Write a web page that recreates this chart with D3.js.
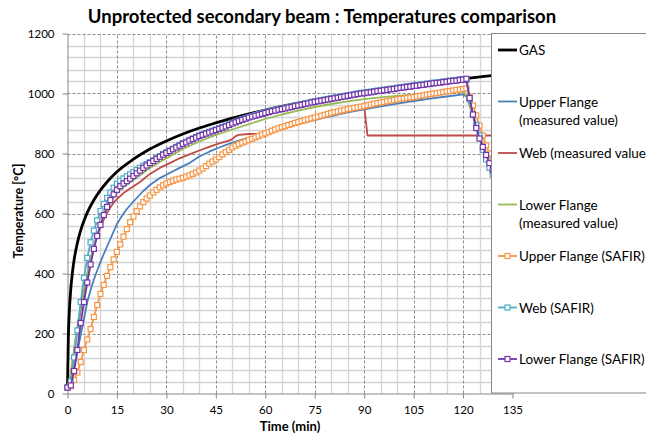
<!DOCTYPE html>
<html>
<head>
<meta charset="utf-8">
<script src="https://cdn.jsdelivr.net/npm/d3@7"></script>
<style>
  body { margin: 0; background: #fff; }
  svg { display: block; font-family: Lato, "Open Sans", sans-serif; }
</style>
</head>
<body>
<svg id="chart" width="646" height="435"></svg>
<script>
// furnace gas curve
const gasTimes = [0, 0.25, 0.5, 1, 1.5, 2, 3, 4, 5, 6, 8, 10, 12, 15, 20, 25, 30, 35, 40, 45, 50, 55, 60, 70, 80, 90, 100, 110, 120, 130, 135];
const gasTemps = [20, 185, 261, 349, 404, 445, 502, 544, 576, 603, 645, 678, 705, 739, 781, 815, 842, 865, 885, 902, 918, 932, 945, 968, 988, 1006, 1022, 1036, 1049, 1061, 1067];

// measured values [time, temperature]
const upperMeasured = [[0,20],[1,40],[2,85],[3,140],[4,195],[5,250],[6,305],[7,345],[8,380],[9,410],[10,438],[11,465],[12,490],[13,515],[14,540],[15,565],[16,583],[17,600],[18,615],[20,640],[23,675],[25,695],[28,718],[31,735],[34,752],[37,768],[40,790],[43,806],[46,820],[50,836],[55,853],[60,866],[65,883],[70,898],[75,912],[80,925],[85,937],[90,947],[95,957],[100,966],[105,975],[110,983],[115,990],[120,997],[121,990],[122,960],[123,925],[124,890],[125,855],[126,815],[127,782],[128,752],[129,728],[130,705]];
const webMeasured = [[0,20],[1,60],[2,140],[3,210],[4,280],[5,340],[6,395],[7,445],[8,490],[9,525],[10,555],[11,580],[12,602],[13,620],[14,636],[15,648],[17,668],[19,683],[22,705],[25,732],[28,752],[31,768],[34,784],[37,797],[40,810],[43,822],[46,834],[49,843],[50,848],[51,858],[52,862],[55,865],[58,866],[60,869],[65,890],[70,907],[75,922],[80,937],[85,950],[90,959],[91,860],[135,860]];
const lowerMeasured = [[0,20],[1,70],[2,150],[3,225],[4,292],[5,350],[6,402],[7,450],[8,490],[9,528],[10,562],[11,590],[12,615],[13,636],[14,654],[15,667],[16,678],[17,688],[19,703],[22,728],[25,752],[28,772],[31,790],[35,815],[40,840],[45,862],[50,880],[55,898],[60,915],[65,930],[70,943],[75,955],[80,965],[85,974],[90,981],[95,987],[100,992],[105,996],[110,1000],[115,1003],[120,1006],[121,995],[122,965],[123,930],[124,895],[125,860],[126,825],[127,795],[128,770],[129,745],[130,720]];

// SAFIR results, one value per minute from t = 0
const safirTimes = d3.range(0, 131);
const upperSafir = [
  20,25,45,70,105,145,180,215,255,295,
  332,362,392,421,447,472,497,523,548,571,
  590,608,624,638,650,660,670,679,687,694,
  700,705,709,713,716,719,723,727,732,737,
  743,750,758,766,773,780,788,797,805,812,
  820,826,831,836,840,845,849,854,858,863,
  867,871,876,880,884,888,891,895,898,902,
  905,908,911,914,917,920,923,926,929,932,
  935,938,940,943,945,948,950,952,954,956,
  958,961,963,966,968,970,972,974,976,978,
  980,982,983,985,987,988,990,992,994,996,
  998,1000,1001,1003,1005,1007,1008,1010,1012,1013,
  1015,1017,990,960,927,893,860,827,800,775,750];
const webSafir = [
  20,40,120,210,305,386,452,504,543,577,
  608,632,652,670,686,699,709,717,724,731,
  738,745,752,759,765,771,777,784,791,798,
  804,810,816,822,828,834,839,845,850,855,
  860,864,868,872,876,880,884,888,892,897,
  902,906,910,914,918,922,925,928,931,934,
  937,940,943,945,948,950,952,955,957,960,
  962,964,967,969,972,974,976,978,980,982,
  984,986,988,990,992,994,996,998,1000,1002,
  1003,1005,1006,1008,1010,1011,1013,1014,1016,1017,
  1019,1021,1022,1024,1025,1027,1028,1030,1031,1033,
  1034,1036,1037,1038,1040,1041,1043,1044,1045,1047,
  1048,1045,980,930,895,860,812,780,752,730,708];
const lowerSafir = [
  20,27,75,145,235,305,370,430,482,525,
  562,595,622,645,664,679,691,700,708,716,
  725,734,743,752,760,768,775,782,789,796,
  802,808,814,820,826,832,837,843,848,853,
  858,862,866,870,874,878,882,886,890,895,
  900,904,908,912,916,920,923,926,929,932,
  935,938,941,943,946,948,950,953,955,958,
  960,962,965,967,970,972,974,976,978,980,
  982,984,986,988,990,992,994,996,998,1000,
  1001,1003,1004,1006,1008,1009,1011,1012,1014,1015,
  1017,1019,1020,1022,1023,1025,1026,1028,1029,1031,
  1032,1034,1035,1036,1038,1039,1041,1042,1043,1045,
  1046,1049,985,930,885,850,822,795,768,745,722];

// axis ticks
const xTicks = d3.range(0, 136, 15);
const yTicks = d3.range(0, 1201, 200);
const xMinor = d3.range(0, 136, 5);
const yMinor = d3.range(0, 1201, 40);

// legend entries
const legendNames = [["GAS"], ["Upper Flange", "(measured value)"], ["Web (measured value)"], ["Lower Flange", "(measured value)"], ["Upper Flange (SAFIR)"], ["Web (SAFIR)"], ["Lower Flange (SAFIR)"]];

const colors = ['#000000', '#4a7ebb', '#be4b48', '#98b954', '#f79646', '#4bacc6', '#7435a8'];

const series = [
  {pts: gasTimes.map((t, i) => [t, gasTemps[i]]), curve: d3.curveMonotoneX, width: 2.8, marker: false},
  {pts: upperMeasured, curve: d3.curveLinear, width: 1.8, marker: false},
  {pts: webMeasured, curve: d3.curveLinear, width: 1.8, marker: false},
  {pts: lowerMeasured, curve: d3.curveLinear, width: 1.8, marker: false},
  {pts: safirTimes.map((t, i) => [t, upperSafir[i]]), curve: d3.curveLinear, width: 1.8, marker: true},
  {pts: safirTimes.map((t, i) => [t, webSafir[i]]), curve: d3.curveLinear, width: 1.8, marker: true},
  {pts: safirTimes.map((t, i) => [t, lowerSafir[i]]), curve: d3.curveLinear, width: 1.8, marker: true}
];

const svg = d3.select('#chart');

const x = d3.scaleLinear().domain([0, 135]).range([67.5, 512.5]);
const y = d3.scaleLinear().domain([0, 1200]).range([393.5, 33.5]);

// title
svg.append('text')
  .attr('x', 322).attr('y', 23)
  .attr('text-anchor', 'middle')
  .style('font-size', '18.5px').style('font-weight', 'bold')
  .text('Unprotected secondary beam : Temperatures comparison');

// grid
const grid = svg.append('g');
grid.selectAll('line.vmin').data(xMinor.filter(d => d % 15 !== 0)).enter().append('line')
  .attr('x1', d => Math.round(x(d)) + 0.5).attr('x2', d => Math.round(x(d)) + 0.5)
  .attr('y1', y(0)).attr('y2', y(1200))
  .style('stroke', '#d4d4d4').style('stroke-width', 1.3);
grid.selectAll('line.hmin').data(yMinor.filter(d => d % 200 !== 0)).enter().append('line')
  .attr('x1', x(0)).attr('x2', x(135))
  .attr('y1', d => Math.round(y(d)) + 0.5).attr('y2', d => Math.round(y(d)) + 0.5)
  .style('stroke', '#d4d4d4').style('stroke-width', 1.3);
grid.selectAll('line.vmaj').data(xTicks.slice(1)).enter().append('line')
  .attr('x1', d => Math.round(x(d)) + 0.5).attr('x2', d => Math.round(x(d)) + 0.5)
  .attr('y1', y(0)).attr('y2', y(1200))
  .style('stroke', '#8c8c8c').style('stroke-dasharray', '3,2');
grid.selectAll('line.hmaj').data(yTicks.slice(1)).enter().append('line')
  .attr('x1', x(0)).attr('x2', x(135))
  .attr('y1', d => Math.round(y(d)) + 0.5).attr('y2', d => Math.round(y(d)) + 0.5)
  .style('stroke', '#8c8c8c').style('stroke-dasharray', '3,2');

// axes
const xAxis = svg.append('g')
  .attr('transform', `translate(0,${y(0)})`)
  .call(d3.axisBottom(x).tickValues(xTicks).tickSize(5).tickPadding(7).tickSizeOuter(0));
const yAxis = svg.append('g')
  .attr('transform', `translate(${x(0)},0)`)
  .call(d3.axisLeft(y).tickValues(yTicks).tickFormat(d3.format('d')).tickSize(5).tickPadding(8).tickSizeOuter(0));
[xAxis, yAxis].forEach(a => {
  a.selectAll('path, line').style('stroke', '#868686');
  a.selectAll('text').style('font-size', '11.5px').style('fill', '#000').style('font-family', 'Lato, sans-serif');
});

// axis titles
svg.append('text')
  .attr('x', 290).attr('y', 431)
  .attr('text-anchor', 'middle')
  .style('font-size', '13px').style('font-weight', 'bold')
  .text('Time (min)');
svg.append('text')
  .attr('transform', 'translate(23,211) rotate(-90)')
  .attr('text-anchor', 'middle')
  .style('font-size', '12.5px').style('font-weight', 'bold')
  .text('Temperature [°C]');

// series
svg.append('clipPath').attr('id', 'plotClip')
  .append('rect').attr('x', 60).attr('y', 25).attr('width', 460).attr('height', 375);
const plot = svg.append('g').attr('clip-path', 'url(#plotClip)');

series.forEach((s, i) => {
  const line = d3.line().x(d => x(d[0])).y(d => y(d[1])).curve(s.curve);
  plot.append('path')
    .datum(s.pts)
    .attr('d', line)
    .style('fill', 'none')
    .style('stroke', colors[i])
    .style('stroke-width', s.width)
    .style('stroke-linejoin', 'round');
  if (s.marker) {
    plot.selectAll(null)
      .data(s.pts)
      .enter()
      .append('rect')
      .attr('x', d => x(d[0]) - 2.5)
      .attr('y', d => y(d[1]) - 2.5)
      .attr('width', 5).attr('height', 5)
      .style('fill', '#fff')
      .style('stroke', colors[i])
      .style('stroke-width', 1.2);
  }
});

// legend
const legend = svg.append('g');
legend.append('rect')
  .attr('x', 491.5).attr('y', 33.5).attr('width', 200).attr('height', 359.5)
  .style('fill', '#fff').style('stroke', '#868686');

legendNames.forEach((names, i) => {
  const ly = 50 + i * 51.5;
  legend.append('line')
    .attr('x1', 498).attr('x2', 517).attr('y1', ly).attr('y2', ly)
    .style('stroke', colors[i]).style('stroke-width', i === 0 ? 2.8 : 1.8);
  if (series[i].marker) {
    legend.append('rect')
      .attr('x', 505).attr('y', ly - 2.5).attr('width', 5).attr('height', 5)
      .style('fill', '#fff').style('stroke', colors[i]).style('stroke-width', 1.2);
  }
  names.forEach((n, j) => {
    legend.append('text')
      .attr('x', 519).attr('y', ly + 5 + j * 18.5)
      .style('font-size', '13.5px')
      .text(n);
  });
});
</script>
</body>
</html>
